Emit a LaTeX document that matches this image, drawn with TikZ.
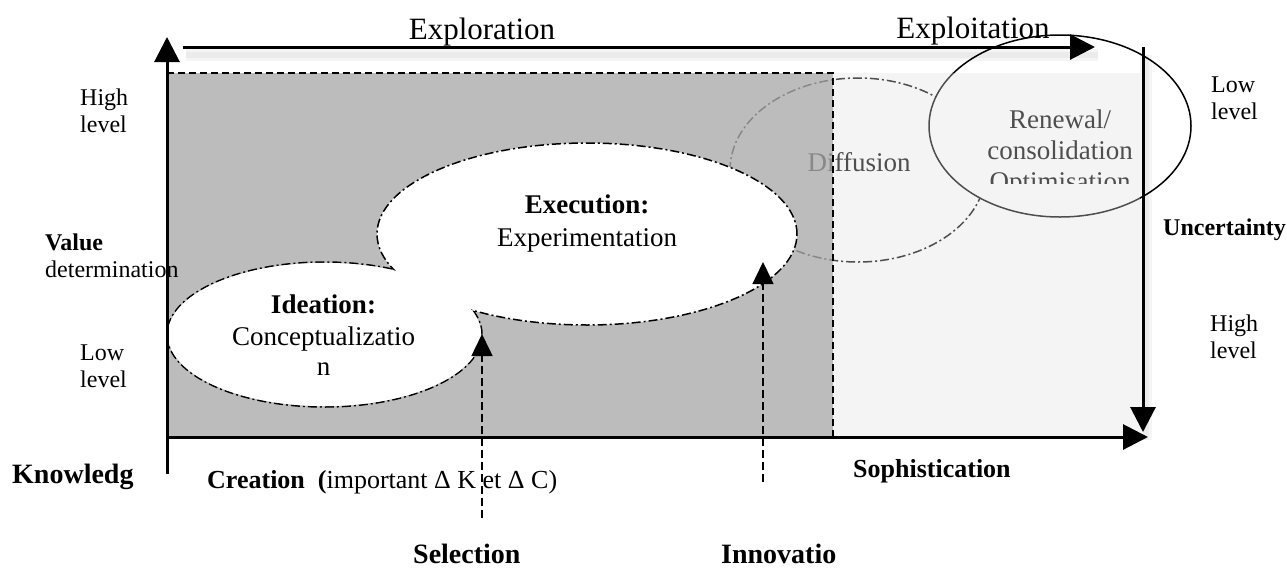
\documentclass[tikz,border=0pt]{standalone}
\usepackage{fontspec}
\setmainfont{Liberation Serif}
\usetikzlibrary{arrows.meta}

\begin{document}
\begin{tikzpicture}[x=1pt,y=-1pt,
  axis/.style={line width=3pt},
  bigtip/.style={-{Triangle[length=25pt,width=25pt]}},
  guide/.style={line width=1.5pt, dash pattern=on 8pt off 4pt,
    -{Triangle[length=22pt,width=21pt]}},
  haze/.style={draw=black, draw opacity=0.04, line width=#1,
    transform canvas={shift={(3pt,-8pt)}}},
  dashdot/.style={line width=1.5pt, dash pattern=on 9pt off 3pt on 2pt off 3pt},
  boxdash/.style={line width=1.5pt, dash pattern=on 7pt off 4pt},
  small/.style={font=\fontsize{24}{26.5}\selectfont, inner sep=0pt, anchor=base west, align=left},
  smallb/.style={font=\fontsize{24}{27}\selectfont\bfseries, inner sep=0pt, anchor=base west},
  axisname/.style={font=\fontsize{26}{30}\selectfont\bfseries, inner sep=0pt, anchor=base west},
  stage/.style={font=\fontsize{28}{32}\selectfont\bfseries, inner sep=0pt, anchor=base west},
  mid/.style={font=\fontsize{27}{30}\selectfont, inner sep=0pt, anchor=base},
  midb/.style={font=\fontsize{27}{30}\selectfont\bfseries, inner sep=0pt, anchor=base},
  phase/.style={font=\fontsize{31}{34}\selectfont, inner sep=0pt, anchor=base}]

\useasboundingbox (0,0) rectangle (1287,568);

% ---- reference points ----
\coordinate (O) at (167,437);
\coordinate (vFoot) at (167,474);
\coordinate (vTip) at (167,37);
\coordinate (hTip) at (1148,437);
\coordinate (tStart) at (183,47);
\coordinate (tTip) at (1095,47);
\coordinate (rStart) at (1143,47);
\coordinate (rTip) at (1143,432);
\coordinate (darkTL) at (167,73);
\coordinate (darkTR) at (833,73);
\coordinate (darkBR) at (833,437);
\coordinate (lightBR) at (1140,437);
\coordinate (ideC) at (324.5,334.5);
\coordinate (exeC) at (587,234);
\coordinate (difC) at (858,170);
\coordinate (renC) at (1060,126);
\coordinate (selFoot) at (482,518);
\coordinate (selHead) at (482,334);
\coordinate (innFoot) at (763,482);
\coordinate (innHead) at (763,262);

% ---- later phases, seen through the shaded bands ----
\draw[dashdot] (difC) ellipse [x radius=128pt, y radius=92pt];
\node[mid] (dif) at (859,171) {Diffusion};

\filldraw[fill=white, draw=black, line width=1.5pt] (renC) ellipse [x radius=131pt, y radius=91pt];
\begin{scope}
  \clip (940,80) rectangle (1180,183);
  \node[mid] (ren1) at (1060,128) {Renewal/};
  \node[mid] (ren2) at (1060,159) {consolidation};
  \node[mid] (ren3) at (1060,190) {Optimisation};
\end{scope}

% ---- shaded bands ----
\fill[black!12, fill opacity=0.35] (darkTR) rectangle (lightBR);
\fill[black!33, fill opacity=0.8] (darkTL) rectangle (darkBR);
\draw[boxdash] (darkTL) -- (darkTR) -- (darkBR);

% ---- exploration stages (merged outlines) ----
\draw[dashdot] (ideC) ellipse [x radius=157.5pt, y radius=72.5pt];
\fill[white] (exeC) ellipse [x radius=210pt, y radius=91pt];
\draw[dashdot] (exeC) ellipse [x radius=210pt, y radius=91pt];
\fill[white] (ideC) ellipse [x radius=156.6pt, y radius=71.6pt];

\node[midb] (ide1) at (323.5,313) {Ideation:};
\node[mid] (ide2) at (323.5,345) {Conceptualizatio};
\node[mid] (ide3) at (323.5,375) {n};
\node[midb] (exe1) at (587,213) {Execution:};
\node[mid] (exe2) at (587,246) {Experimentation};

% ---- soft shadows under the two long arrows ----
\foreach \w in {12pt,6pt}{
  \draw[haze=\w] (rStart) -- (rTip);
  \draw[haze=\w] (tStart) -- (tTip);
}

% ---- axes ----
\draw[axis, bigtip] (vFoot) -- (vTip);
\draw[axis, bigtip] (O) -- (hTip);
\draw[axis, bigtip] (rStart) -- (rTip);
\draw[axis, bigtip] (tStart) -- (tTip);

% ---- transition markers ----
\draw[guide] (selFoot) -- (selHead);
\draw[guide] (innFoot) -- (innHead);

% ---- labels ----
\node[phase] (explor) at (482,39) {Exploration};
\node[phase] (exploit) at (973,38) {Exploitation};

\node[small] (lHigh) at (80,132) {High\\level};
\node[smallb] (val) at (45,250) {Value};
\node[small] (det) at (45,277) {determination};
\node[small] (lLow) at (80,387) {Low\\level};

\node[small] (rLow) at (1211,119) {Low\\level};
\node[smallb] (unc) at (1163,235) {Uncertainty};
\node[small] (rHigh) at (1210,358) {High\\level};

\node[stage] (know) at (12,483) {Knowledg};
\node[axisname, font=\fontsize{26}{30}\selectfont] (crea) at (207,488)
  {\textbf{Creation\ \ (}important Δ K et Δ C)};
\node[axisname] (soph) at (853,477) {Sophistication};
\node[stage] (sel) at (413,563) {Selection};
\node[stage] (inn) at (721,563) {Innovatio};

\end{tikzpicture}
\end{document}
